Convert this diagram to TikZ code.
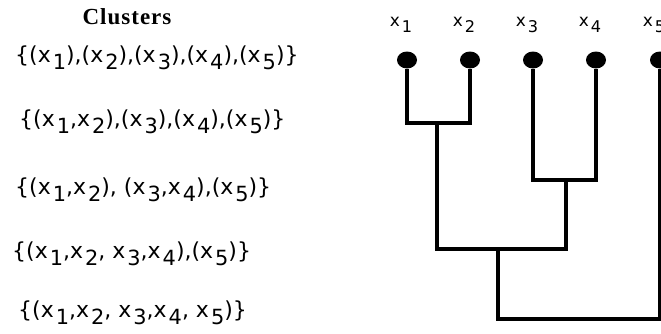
\documentclass[tikz,border=0pt]{standalone}
\usepackage{graphicx}
\usepackage{fontspec}
\setmainfont{DejaVu Sans}
\newfontfamily\headfont{Liberation Serif}
\usetikzlibrary{shapes.geometric, positioning}

% x with a low subscript
\newcommand{\xs}[1]{x\kern2pt\raisebox{-0.6ex}{\scalebox{0.95}{#1}}}

\tikzset{
    leaf/.style={ellipse, fill=black, minimum width=20pt, minimum height=17pt, inner sep=0pt},
    tag/.style={font=\fontsize{17}{17}\selectfont, inner sep=0pt},
    cluster/.style={anchor=west, font=\fontsize{22}{22}\selectfont, inner sep=0pt},
    link/.style={line width=3.2pt}
}

\begin{document}
\begin{tikzpicture}[x=1pt, y=-1pt]
    \useasboundingbox (0,0) rectangle (661,333);

    % cluster list
    \node[font=\headfont\bfseries\fontsize{23}{23}\selectfont] (title) at (127,17) {C\kern1pt l\kern1pt u\kern1pt s\kern1pt t\kern1pt e\kern1pt r\kern1pt s};
    \node[cluster] (c1) at (15,58) {\{(\xs{1}),(\xs{2}),(\xs{3}),(\xs{4}),(\xs{5})\}};
    \node[cluster] (c2) at (19,122) {\{(\xs{1},\xs{2}),(\xs{3}),(\xs{4}),(\xs{5})\}};
    \node[cluster] (c3) at (15,190) {\{(\xs{1},\xs{2}), (\xs{3},\xs{4}),(\xs{5})\}};
    \node[cluster] (c4) at (12,254) {\{(\xs{1},\xs{2}, \xs{3},\xs{4}),(\xs{5})\}};
    \node[cluster] (c5) at (18,313) {\{(\xs{1},\xs{2}, \xs{3},\xs{4}, \xs{5})\}};

    % leaves
    \foreach \i/\x in {1/407, 2/470, 3/533, 4/596, 5/660}
    {
        \node[leaf] (d\i) at (\x,60) {};
        \node[tag] (t\i) at (\x-6,25) {\xs{\i}};
    }

    % merges
    \coordinate (m12) at (437,123);
    \coordinate (m34) at (566,180);
    \coordinate (m1234) at (498,249);
    \coordinate (mall) at (580,319);

    \draw[link] (d1) |- (m12) -| (d2);
    \draw[link] (d3) |- (m34) -| (d4);
    \draw[link] (m12) |- (m1234) -| (m34);
    \draw[link] (m1234) |- (mall) -| (d5);
\end{tikzpicture}
\end{document}
